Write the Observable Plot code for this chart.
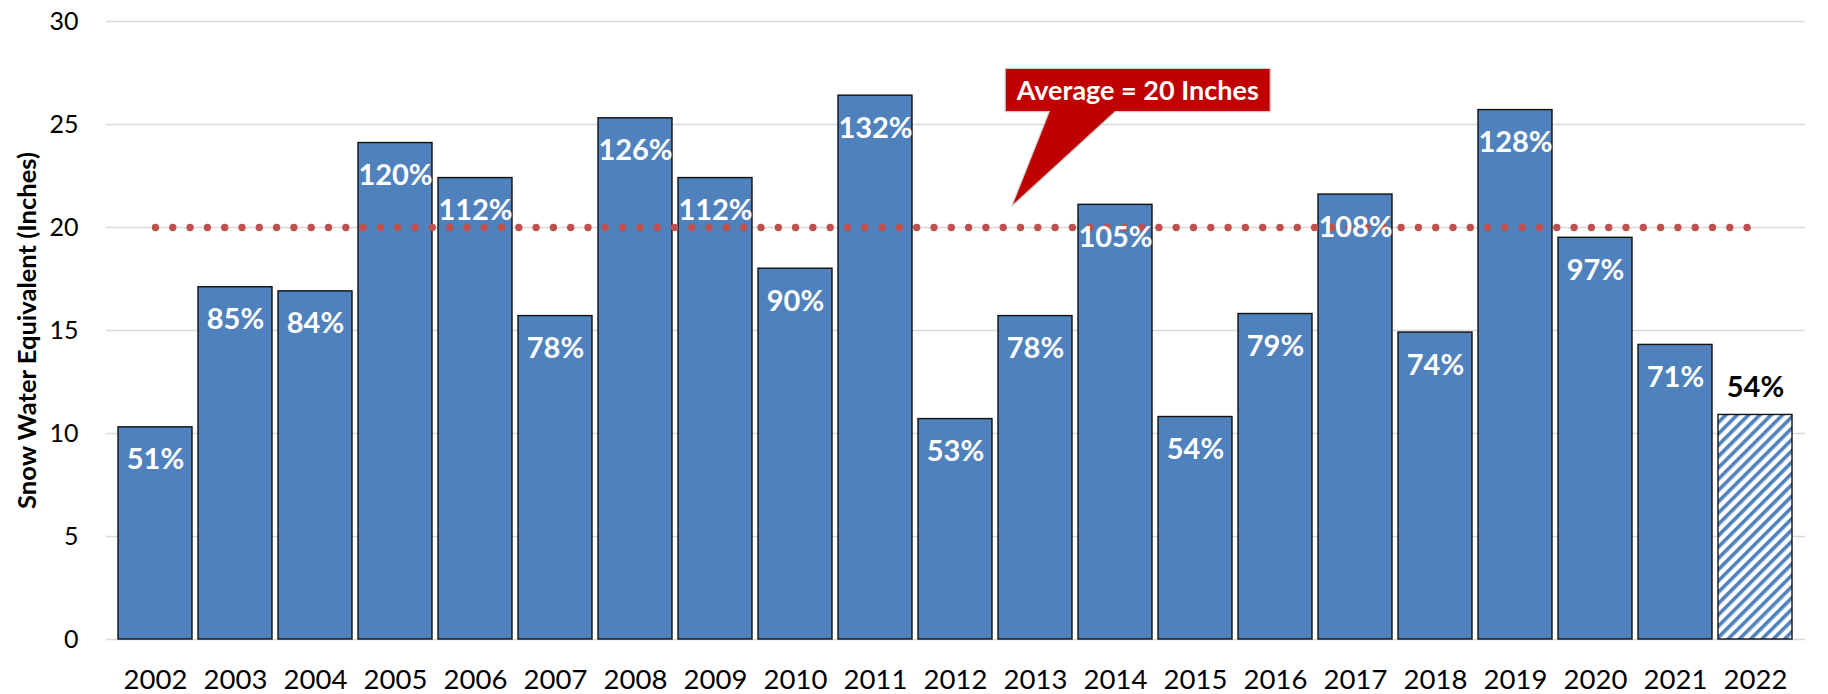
<!DOCTYPE html>
<html><head><meta charset="utf-8">
<script src="https://cdn.jsdelivr.net/npm/d3@7"></script>
<script src="https://cdn.jsdelivr.net/npm/@observablehq/plot@0.6"></script>
<style>
html,body{margin:0;padding:0;background:#fff;}
#chart svg{display:block;}
</style>
</head><body><div id="chart"></div>
<script>
const years = ["2002","2003","2004","2005","2006","2007","2008","2009","2010","2011","2012","2013","2014","2015","2016","2017","2018","2019","2020","2021","2022"];
const swe = [10.3,17.1,16.9,24.1,22.4,15.7,25.3,22.4,18.0,26.4,10.7,15.7,21.1,10.8,15.8,21.6,14.9,25.7,19.5,14.3,10.9];
const pctLabels = ["51%","85%","84%","120%","112%","78%","126%","112%","90%","132%","53%","78%","105%","54%","79%","108%","74%","128%","97%","71%","54%"];
const currentYear = "2022";
const averageValue = 20;
const averageLabel = "Average = 20 Inches";
const yTicks = [0,5,10,15,20,25,30];
const yTitle = "Snow Water Equivalent (Inches)";
// callout anchor (data space)
const calloutYear = "2013";
const calloutTipValue = 21.0;
const calloutTopValue = 27.7;
const calloutBottomValue = 25.6;

const rows = years.map((year, i) => ({year, value: swe[i], label: pctLabels[i]}));
const past = rows.filter(d => d.year !== currentYear);
const current = rows.filter(d => d.year === currentYear);
const avgLine = years.map(year => ({year, value: averageValue}));

const FONT = "Lato, 'Open Sans', sans-serif";

function callout(index, scales) {
  const x = scales.x, y = scales.y;
  const step = x(years[1]) - x(years[0]);
  const bx = x(calloutYear);
  const tipX = bx + 0.17 * step;
  const tipY = y(calloutTipValue);
  const L = bx + 0.09 * step;
  const R = L + 265;
  const T = y(calloutTopValue);
  const B = y(calloutBottomValue);
  const b1 = L + 44, b2 = L + 110;
  const g = d3.create("svg:g");
  g.append("path")
    .attr("d", `M${L},${T}H${R}V${B}H${b2}L${tipX},${tipY}L${b1},${B}H${L}Z`)
    .attr("fill", "#c00000")
    .attr("stroke", "#cfcfcf")
    .attr("stroke-width", 1.2);
  g.append("text")
    .attr("x", (L + R) / 2)
    .attr("y", T + 32)
    .attr("text-anchor", "middle")
    .attr("fill", "white")
    .attr("font-weight", "bold")
    .attr("font-size", 27)
    .attr("font-family", FONT)
    .text(averageLabel);
  return g.node();
}

const chart = Plot.plot({
  width: 1828,
  height: 694,
  marginTop: 21,
  marginBottom: 55,
  marginLeft: 106,
  marginRight: 23,
  style: {fontFamily: FONT, color: "#000", background: "#fff"},
  x: {domain: years, paddingInner: 0.074, paddingOuter: 0.025},
  y: {domain: [0, 30]},
  marks: [
    Plot.gridY(yTicks, {stroke: "#d9d9d9", strokeOpacity: 1, strokeWidth: 1.3}),
    Plot.axisY(yTicks, {tickSize: 0, tickPadding: 28, fontSize: 25, label: null, fill: "#000"}),
    Plot.axisX({tickSize: 0, tickPadding: 30, fontSize: 27.5, label: null, fill: "#000"}),
    Plot.text([yTitle], {frameAnchor: "left", textAnchor: "middle", rotate: -90, dx: -71, lineAnchor: "bottom", fontSize: 25.5, fontWeight: "bold", fill: "#000", text: d => d}),
    Plot.barY(past, {x: "year", y: "value", fill: "#4f81bd", stroke: "#111", strokeWidth: 1.4}),
    Plot.barY(current, {x: "year", y: "value", fill: "url(#hatch)", stroke: "#111", strokeWidth: 1.4}),
    Plot.line(avgLine, {x: "year", y: "value", stroke: "#c0504d", strokeWidth: 7.4, strokeDasharray: "0,17.3", strokeLinecap: "round"}),
    Plot.text(past, {x: "year", y: "value", text: "label", fill: "white", fontWeight: "bold", fontSize: 29, lineAnchor: "bottom", dy: 42}),
    Plot.text(current, {x: "year", y: "value", text: "label", fill: "#000", fontWeight: "bold", fontSize: 29, lineAnchor: "bottom", dy: -18}),
    callout
  ]
});

const defs = d3.select(chart).insert("defs", ":first-child");
const pat = defs.append("pattern")
  .attr("id", "hatch")
  .attr("patternUnits", "userSpaceOnUse")
  .attr("width", 8).attr("height", 8)
  .attr("patternTransform", "rotate(45)");
pat.append("rect").attr("width", 8).attr("height", 8).attr("fill", "#fff");
pat.append("rect").attr("width", 3.6).attr("height", 8).attr("fill", "#4f81bd");

document.getElementById("chart").appendChild(chart);
</script>
</body></html>
